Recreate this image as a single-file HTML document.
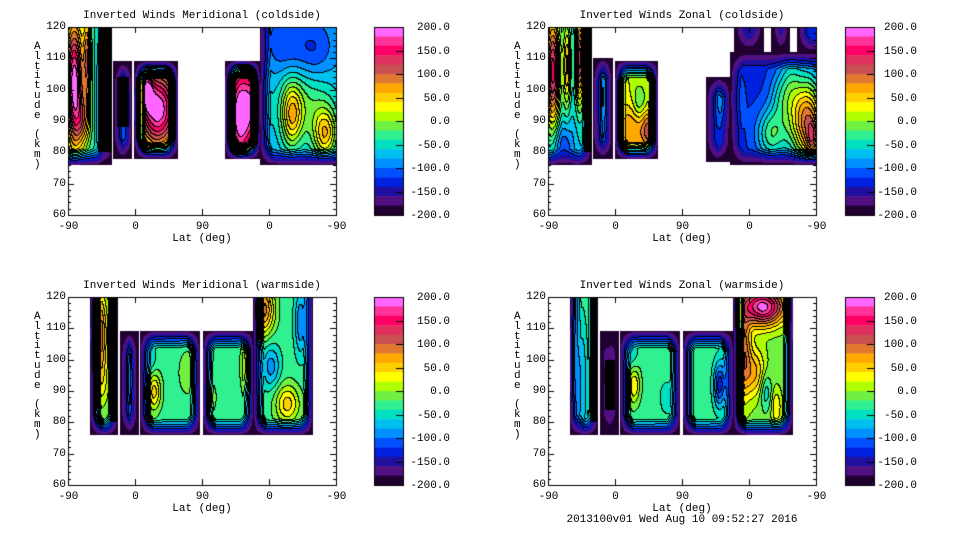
<!DOCTYPE html>
<html><head><meta charset="utf-8">
<style>
body{margin:0;background:#fff;width:960px;height:540px;overflow:hidden;position:relative;font-family:"Liberation Mono",monospace;font-size:11px;color:#000}
canvas{position:absolute;left:0;top:0}
.t{position:absolute;white-space:pre;line-height:12px}
</style></head><body>
<canvas id="c" width="960" height="540"></canvas>
<div id="labels"></div>
<script>
// ---- data ----
const levels = [-200,-180,-160,-140,-120,-100,-80,-60,-40,-20,0,20,40,60,80,100,120,140,160,180];
const levelColors = ['#200030','#501080','#2010a0','#0020e0','#0050ff','#0090ff','#00c0f0','#00e0c0','#30f090','#70f040','#b0ff00','#ffff00','#ffd000','#ffa800','#e07830','#c85050','#e03060','#ff0066','#ff3399','#ff66ff'];
const xTickLabels = ['-90','0','90','0','-90'];
const yTicks = [60,70,80,90,100,110,120];
const cbarLabels = ['200.0','150.0','100.0','50.0','0.0','-50.0','-100.0','-150.0','-200.0'];
const panelTitles = ['Inverted Winds Meridional (coldside)','Inverted Winds Zonal (coldside)','Inverted Winds Meridional (warmside)','Inverted Winds Zonal (warmside)'];
// segments: [u0,u1,alt0,alt1,baseValue]
const segTL = [[0,59,76,120,-40],[61,86,78,109,-110],[89,148,78,109,-60],[211,258,78,109,20],[258,360,76,120,-80]];
const segTR = [[0,59,76,120,-60],[60,87,78,110,-110],[90,148,78,109,20],[212,245,77,104,-130],[245,360,76,112,-125],[250,290,112,120,-150],[300,325,112,120,-150],[335,360,112,120,-130]];
const segBL = [[30,67,76,120,-20],[70,95,76,109,-130],[97,177,76,109,-30],[181,249,76,109,-30],[249,329,76,120,-30]];
const segBR = [[30,67,76,120,-20],[70,95,76,109,-150],[97,177,76,109,-30],[181,249,76,109,-30],[249,329,76,120,-10]];
// bumps: [u, alt, amplitude, radiusU, radiusAlt]
const bumpTL = [[8,102,240,12,20],[25,110,120,5,14],[20,90,80,10,8],[48,95,-120,8,24],[120,94,260,30,14],[105,100,120,8,6],[230,92,180,16,16],[250,96,110,14,14],[300,92,110,14,10],[345,86,120,16,8],[290,114,-40,26,10],[330,112,-50,26,10],[320,96,60,40,14]];
const bumpTR = [[6,106,210,10,18],[25,108,120,5,14],[42,110,190,6,14],[20,82,-60,14,8],[75,98,40,8,14],[112,88,60,20,8],[122,96,-50,10,6],[135,87,80,10,6],[240,97,60,16,8],[300,86,100,20,8],[310,98,50,14,8],[348,90,220,22,14],[355,84,80,8,6],[325,100,60,14,14]];
const bumpBL = [[40,108,130,12,14],[45,92,30,10,8],[82,94,60,6,14],[115,90,80,9,6],[110,100,-30,8,6],[160,96,20,14,8],[190,88,30,8,5],[242,98,100,8,8],[262,116,120,14,8],[272,98,-60,12,7],[294,86,80,16,6],[312,112,-70,8,10]];
const bumpBR = [[32,100,100,6,18],[45,92,-60,8,24],[82,95,-30,5,14],[115,92,70,8,6],[112,102,-30,8,6],[160,88,-20,12,6],[230,92,-100,8,7],[240,100,-20,8,10],[288,117,200,30,6],[262,102,100,10,14],[278,96,70,14,8],[292,90,-50,8,6],[306,85,50,7,6]];
// darkZones: [u0,u1,alt0,alt1]
const darkTL = [[40,59,80,120],[66,82,88,104],[92,98,84,104]];
const darkTR = [[48,59,80,120],[94,102,84,104]];
const darkBL = [[57,66,80,120]];
const darkBR = [[57,66,80,120],[76,90,84,100],[251,258,110,120]];

const panels = [
 {x0:68,y0:27,cb:374,segs:segTL,bumps:bumpTL,dark:darkTL,title:0},
 {x0:548,y0:27,cb:845,segs:segTR,bumps:bumpTR,dark:darkTR,title:1},
 {x0:68,y0:297,cb:374,segs:segBL,bumps:bumpBL,dark:darkBL,title:2},
 {x0:548,y0:297,cb:845,segs:segBR,bumps:bumpBR,dark:darkBR,title:3}
];
const W=268,H=188;
const ctx=document.getElementById('c').getContext('2d');
const labels=document.getElementById('labels');
function xScale(p,u){return p.x0+u/360*W;}
function yScale(p,a){return p.y0+(120-a)/60*H;}
function addText(txt,x,y,name,align){
  const d=document.createElement('div');d.className='t';d.textContent=txt;
  d.style.top=(y-6)+'px';
  if(align==='c'){d.style.left=(x-200)+'px';d.style.width='400px';d.style.textAlign='center';}
  else if(align==='r'){d.style.left=(x-100)+'px';d.style.width='100px';d.style.textAlign='right';}
  else d.style.left=x+'px';
  
  
  labels.appendChild(d);
}
function rgb(h){return [parseInt(h.slice(1,3),16),parseInt(h.slice(3,5),16),parseInt(h.slice(5,7),16)];}
const cols=levelColors.map(rgb);
function levelIdx(v){let i=Math.floor((v+200)/20);return Math.max(0,Math.min(19,i));}
function field(p,s,u,a){
  let v=s[4];
  for(const b of p.bumps){const du=(u-b[0])/b[3],da=(a-b[1])/b[4];v+=b[2]*Math.exp(-(du*du+da*da));}
  v=Math.max(-200,Math.min(199,v));
  let wu=1,wa=1;
  if(s[0]>0) wu=Math.min(wu,(u-s[0]+1)/18);
  if(s[1]<360) wu=Math.min(wu,(s[1]-u+1)/18);
  wa=Math.min(1,(a-s[2]+0.5)/7);
  if(s[3]<120) wa=Math.min(wa,(s[3]-a+0.5)/7);
  const w=Math.max(0,wu)*Math.max(0,wa);
  return -200+(v+200)*Math.min(1,w*1.2);
}
for(const p of panels){
  const img=ctx.createImageData(W,H);
  const lv=new Int16Array(W*H).fill(-1);
  for(let j=0;j<H;j++)for(let i=0;i<W;i++){
    const u=(i+0.5)/W*360,a=120-(j+0.5)/H*60;
    let si=-1;
    for(let k=0;k<p.segs.length;k++){const s=p.segs[k];if(u>=s[0]&&u<=s[1]&&a>=s[2]&&a<=s[3]){si=k;break;}}
    if(si<0)continue;
    let dark=false;
    for(const d of p.dark){if(u>=d[0]&&u<=d[1]&&a>=d[2]&&a<=d[3]){dark=true;break;}}
    lv[j*W+i]=dark?-2:levelIdx(field(p,p.segs[si],u,a));
  }
  for(let j=0;j<H;j++)for(let i=0;i<W;i++){
    const k=j*W+i,o=k*4;const L=lv[k];
    if(L===-1){img.data[o]=255;img.data[o+1]=255;img.data[o+2]=255;img.data[o+3]=255;continue;}
    let c=L===-2?[0,0,0]:cols[L];
    if(L>2){
      if((i>0&&lv[k-1]>=0&&lv[k-1]!==L)||(j>0&&lv[k-W]>=0&&lv[k-W]!==L))c=[0,0,0];
    }
    img.data[o]=c[0];img.data[o+1]=c[1];img.data[o+2]=c[2];img.data[o+3]=255;
  }
  ctx.putImageData(img,p.x0,p.y0);
  ctx.strokeStyle='#000';ctx.lineWidth=1;
  ctx.strokeRect(p.x0+0.5,p.y0+0.5,W,H);
  ctx.beginPath();
  xTickLabels.forEach((t,i)=>{const x=Math.round(xScale(p,i*90))+0.5;
    ctx.moveTo(x,p.y0+H);ctx.lineTo(x,p.y0+H-6);ctx.moveTo(x,p.y0);ctx.lineTo(x,p.y0+6);
    addText(t,x,p.y0+H+12,'x-tick-label','c');});
  for(let a=60;a<=120;a+=2){const y=Math.round(yScale(p,a))+0.5;const len=(a%10===0)?6:3;
    ctx.moveTo(p.x0,y);ctx.lineTo(p.x0+len,y);ctx.moveTo(p.x0+W,y);ctx.lineTo(p.x0+W-len,y);}
  ctx.stroke();
  yTicks.forEach(a=>addText(String(a),p.x0-2,yScale(p,a),'y-tick-label','r'));
  addText(panelTitles[p.title],p.x0+W/2,p.y0-11,'panel-title','c');
  addText('Lat (deg)',p.x0+W/2,p.y0+H+24,'x-axis-title','c');
  'Altitude (km)'.split('').forEach((ch,i)=>{if(ch!==' ')addText(ch,p.x0-34,p.y0+20+i*9.8,'y-axis-title-char','l');});
  for(let i=0;i<20;i++){ctx.fillStyle=levelColors[19-i];ctx.fillRect(p.cb,p.y0+i*H/20,29,H/20+0.5);}
  ctx.strokeRect(p.cb+0.5,p.y0+0.5,29,H);
  ctx.beginPath();
  cbarLabels.forEach((t,i)=>{const y=Math.round(p.y0+i*H/8)+0.5;
    if(i>0&&i<8){ctx.moveTo(p.cb+29,y);ctx.lineTo(p.cb+22,y);}
    addText(t,p.cb+(p.cb>800?72:76),y,'colorbar-label','r');});
  ctx.stroke();
}
addText('2013100v01 Wed Aug 10 09:52:27 2016',682,520,'timestamp-footer','c');
</script>
</body></html>
